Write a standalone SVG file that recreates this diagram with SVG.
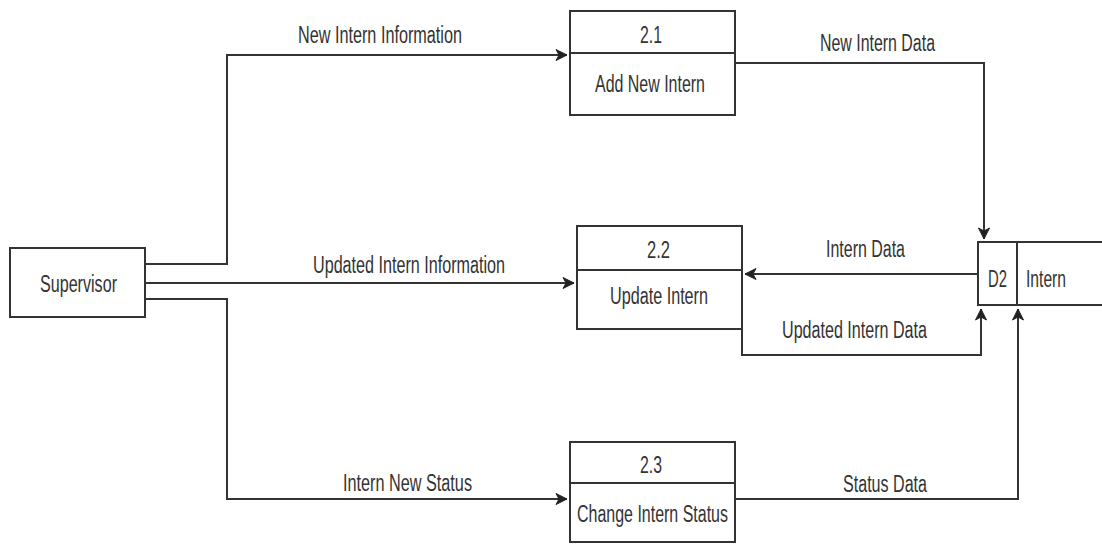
<svg xmlns="http://www.w3.org/2000/svg" width="1102" height="544" viewBox="0 0 1102 544">
<style>
.box{fill:#fff;stroke:#333;stroke-width:2}
.ln{fill:none;stroke:#333;stroke-width:2}
.t{font-family:"Liberation Sans",Arial,sans-serif;font-size:23px;fill:#333;text-anchor:middle}
.c{fill:none;stroke:#333;stroke-width:2}
</style>
<defs>
<marker id="ah" markerUnits="userSpaceOnUse" markerWidth="14" markerHeight="14" viewBox="0 0 14 14" refX="12" refY="7" orient="auto">
<path d="M1,1.5 L12,7 L1,12.5 L4,7 Z" fill="#222" stroke="#222" stroke-width="1"/>
</marker>
</defs>
<rect width="1102" height="544" fill="#fff"/>
<g id="connectors">
<path class="c" d="M145 264 H227 V55 H567" marker-end="url(#ah)"/>
<path class="c" d="M145 283 H574" marker-end="url(#ah)"/>
<path class="c" d="M145 299 H227 V499 H567" marker-end="url(#ah)"/>
<path class="c" d="M735 63 H984 V239" marker-end="url(#ah)"/>
<path class="c" d="M978 274 H745" marker-end="url(#ah)"/>
<path class="c" d="M742 329 V355 H981 V309" marker-end="url(#ah)"/>
<path class="c" d="M735 499 H1018 V309" marker-end="url(#ah)"/>
<text class="t" x="380" y="43" textLength="164" lengthAdjust="spacingAndGlyphs">New Intern Information</text>
<text class="t" x="409" y="273" textLength="192" lengthAdjust="spacingAndGlyphs">Updated Intern Information</text>
<text class="t" x="407.5" y="491" textLength="129" lengthAdjust="spacingAndGlyphs">Intern New Status</text>
<text class="t" x="877.5" y="51" textLength="115" lengthAdjust="spacingAndGlyphs">New Intern Data</text>
<text class="t" x="865.5" y="257" textLength="79" lengthAdjust="spacingAndGlyphs">Intern Data</text>
<text class="t" x="854.5" y="338" textLength="145" lengthAdjust="spacingAndGlyphs">Updated Intern Data</text>
<text class="t" x="885" y="492" textLength="84" lengthAdjust="spacingAndGlyphs">Status Data</text>
</g>
<g id="supervisor">
<rect class="box" x="10" y="248" width="135" height="69"/>
<text class="t" x="78.5" y="292" textLength="77" lengthAdjust="spacingAndGlyphs">Supervisor</text>
</g>
<g id="p2_1">
<rect class="box" x="570" y="11" width="165" height="104"/>
<line class="ln" x1="570" y1="53" x2="735" y2="53"/>
<text class="t" x="651" y="43" textLength="22" lengthAdjust="spacingAndGlyphs">2.1</text>
<text class="t" x="650" y="92" textLength="110" lengthAdjust="spacingAndGlyphs">Add New Intern</text>
</g>
<g id="p2_2">
<rect class="box" x="577" y="226" width="165" height="103"/>
<line class="ln" x1="577" y1="270" x2="742" y2="270"/>
<text class="t" x="658.5" y="258" textLength="23" lengthAdjust="spacingAndGlyphs">2.2</text>
<text class="t" x="659" y="304" textLength="98" lengthAdjust="spacingAndGlyphs">Update Intern</text>
</g>
<g id="p2_3">
<rect class="box" x="570" y="442" width="165" height="100"/>
<line class="ln" x1="570" y1="483" x2="735" y2="483"/>
<text class="t" x="651" y="473" textLength="22" lengthAdjust="spacingAndGlyphs">2.3</text>
<text class="t" x="652.5" y="522" textLength="151" lengthAdjust="spacingAndGlyphs">Change Intern Status</text>
</g>
<g id="d2_intern">
<path class="ln" d="M1102 242 H978 V305 H1102"/>
<line class="ln" x1="1017" y1="242" x2="1017" y2="305"/>
<text class="t" x="997.5" y="287" textLength="19" lengthAdjust="spacingAndGlyphs">D2</text>
<text class="t" x="1046" y="287" textLength="40" lengthAdjust="spacingAndGlyphs">Intern</text>
</g>
</svg>
